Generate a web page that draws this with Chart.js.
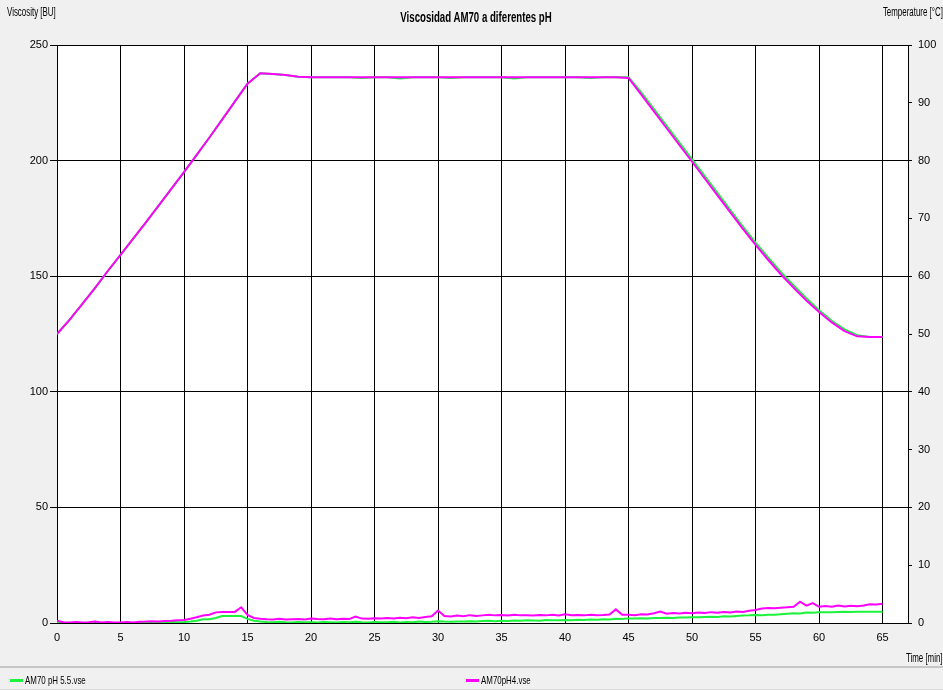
<!DOCTYPE html>
<html>
<head>
<meta charset="utf-8">
<script src="https://cdn.jsdelivr.net/npm/chart.js@4.4.1/dist/chart.umd.min.js"></script>
<style>
    html, body { margin: 0; padding: 0; background: #f0f0f0; }
    #wrap { position: relative; width: 943px; height: 690px; font-family: 'Liberation Sans', Arial, sans-serif; color: #000; }
    #wrap canvas { position: absolute; left: 0; top: 0; }
    .lbl { position: absolute; font-size: 12px; line-height: 12px; white-space: nowrap; transform: scaleX(0.66); }
    .left { transform-origin: left center; }
    .right { transform-origin: right center; }
    #title { position: absolute; left: 476px; top: 9px; font-size: 14px; line-height: 16px; font-weight: bold; white-space: nowrap; transform: translateX(-50%) scaleX(0.69); }
    #legend { position: absolute; left: 0; top: 666px; width: 943px; height: 21px; border-top: 2px solid #c6c6c6; border-bottom: 1px solid #dadada; }
    .item { position: absolute; top: 6px; height: 12px; }
    .swatch { position: absolute; left: 0; top: 5px; width: 13px; height: 3px; }
    .item .txt { position: absolute; left: 15px; top: 0; font-size: 11px; line-height: 12px; white-space: nowrap; transform: scaleX(0.72); transform-origin: left center; }
</style>
</head>
<body>
<div id="wrap">
    <canvas id="grafico" width="943" height="690"></canvas>
    <div id="title"></div>
    <div class="lbl left" style="left:7px; top:6px;">Viscosity [BU]</div>
    <div class="lbl right" style="right:0; top:6px;">Temperature [°C]</div>
    <div class="lbl right" style="right:0; top:652px;">Time [min]</div>
    <div id="legend"></div>
</div>
<script>
const TITLE = 'Viscosidad AM70 a diferentes pH'
const SERIES_NAMES = ['AM70 pH 5.5.vse', 'AM70pH4.vse']
const X_TICKS = [0, 5, 10, 15, 20, 25, 30, 35, 40, 45, 50, 55, 60, 65]
const VISC_TICKS = [0, 50, 100, 150, 200, 250]
const TEMP_TICKS = [0, 10, 20, 30, 40, 50, 60, 70, 80, 90, 100]

// time [min], viscosity sampled every 0.5 min
const timeVisc = [
    0, 0.5, 1, 1.5, 2, 2.5, 3, 3.5, 4, 4.5,
    5, 5.5, 6, 6.5, 7, 7.5, 8, 8.5, 9, 9.5,
    10, 10.5, 11, 11.5, 12, 12.5, 13, 13.5, 14, 14.5,
    15, 15.5, 16, 16.5, 17, 17.5, 18, 18.5, 19, 19.5,
    20, 20.5, 21, 21.5, 22, 22.5, 23, 23.5, 24, 24.5,
    25, 25.5, 26, 26.5, 27, 27.5, 28, 28.5, 29, 29.5,
    30, 30.5, 31, 31.5, 32, 32.5, 33, 33.5, 34, 34.5,
    35, 35.5, 36, 36.5, 37, 37.5, 38, 38.5, 39, 39.5,
    40, 40.5, 41, 41.5, 42, 42.5, 43, 43.5, 44, 44.5,
    45, 45.5, 46, 46.5, 47, 47.5, 48, 48.5, 49, 49.5,
    50, 50.5, 51, 51.5, 52, 52.5, 53, 53.5, 54, 54.5,
    55, 55.5, 56, 56.5, 57, 57.5, 58, 58.5, 59, 59.5,
    60, 60.5, 61, 61.5, 62, 62.5, 63, 63.5, 64, 64.5,
    65
]
const viscPH55 = [
    0.1, 0.0, 0.1, 0.0, 0.0, 0.1, 0.0, 0.0, 0.1, 0.0,
    0.0, 0.1, 0.0, 0.0, 0.1, 0.2, 0.3, 0.2, 0.4, 0.3,
    0.4, 0.6, 1.0, 1.6, 1.6, 2.2, 3.0, 3.0, 3.0, 3.0,
    1.8, 1.0, 0.6, 0.4, 0.3, 0.5, 0.3, 0.2, 0.4, 0.3,
    0.3, 0.2, 0.4, 0.3, 0.2, 0.4, 0.3, 0.5, 0.3, 0.2,
    0.4, 0.3, 0.3, 0.5, 0.2, 0.4, 0.3, 0.6, 0.4, 0.5,
    0.8, 0.6, 0.5, 0.7, 0.6, 0.8, 0.7, 0.9, 1.0, 0.8,
    1.0, 0.9, 1.1, 1.0, 1.2, 1.1, 1.0, 1.3, 1.2, 1.2,
    1.3, 1.2, 1.4, 1.3, 1.5, 1.4, 1.6, 1.5, 1.8, 1.7,
    2.0, 2.0, 2.1, 1.9, 2.2, 2.2, 2.3, 2.2, 2.4, 2.4,
    2.5, 2.5, 2.6, 2.7, 2.6, 2.9, 2.8, 3.0, 3.2, 3.3,
    3.5, 3.4, 3.6, 3.6, 3.8, 4.0, 4.2, 4.1, 4.5, 4.4,
    4.6, 4.7, 4.6, 4.8, 4.9, 4.8, 4.9, 4.9, 4.9, 4.9,
    4.9
]
const viscPH4 = [
    1.0, 0.3, 0.2, 0.4, 0.2, 0.3, 0.6, 0.2, 0.4, 0.2,
    0.2, 0.4, 0.2, 0.5, 0.6, 0.8, 0.7, 0.9, 1.0, 1.2,
    1.3, 1.8, 2.5, 3.2, 3.6, 4.6, 4.8, 4.8, 4.8, 6.8,
    3.5, 2.2, 1.8, 1.6, 1.5, 1.8, 1.5, 1.6, 1.7, 1.5,
    1.9, 1.7, 1.6, 1.9, 1.6, 1.8, 1.7, 2.8, 1.9, 1.8,
    2.1, 1.9, 2.2, 2.0, 2.3, 2.1, 2.5, 2.2, 2.6, 2.9,
    5.4, 3.0, 2.8, 3.2, 2.9, 3.4, 3.0, 3.3, 3.6, 3.3,
    3.5, 3.2, 3.6, 3.3, 3.4, 3.2, 3.5, 3.3, 3.6, 3.2,
    3.8, 3.4, 3.5, 3.3, 3.6, 3.4, 3.5, 3.7, 5.9, 3.6,
    3.6, 3.4, 3.8, 3.7, 4.2, 5.0, 4.0, 4.3, 4.1, 4.4,
    4.2, 4.5, 4.3, 4.7, 4.4, 4.8, 4.5, 5.0, 4.8, 5.3,
    5.6, 6.3, 6.5, 6.4, 6.6, 6.8, 7.0, 9.2, 7.5, 8.6,
    7.0, 7.4, 7.0, 7.6, 7.1, 7.5, 7.2, 7.6, 8.1, 8.0,
    8.3
]

// temperature [°C], every minute
const timeTemp = [
    0, 1, 2, 3, 4, 5, 6, 7, 8, 9,
    10, 11, 12, 13, 14, 15, 16, 17, 18, 19,
    20, 21, 22, 23, 24, 25, 26, 27, 28, 29,
    30, 31, 32, 33, 34, 35, 36, 37, 38, 39,
    40, 41, 42, 43, 44, 45, 46, 47, 48, 49,
    50, 51, 52, 53, 54, 55, 56, 57, 58, 59,
    60, 61, 62, 63, 64, 65
]
const tempPH55 = [
    50.0, 52.5, 55.2, 58.0, 60.9, 63.7, 66.5, 69.3, 72.2, 75.1,
    78.0, 81.0, 84.0, 87.1, 90.2, 93.3, 95.1, 95.0, 94.8, 94.5,
    94.4, 94.4, 94.4, 94.4, 94.3, 94.4, 94.4, 94.2, 94.4, 94.4,
    94.4, 94.3, 94.4, 94.4, 94.4, 94.4, 94.2, 94.4, 94.4, 94.4,
    94.4, 94.4, 94.3, 94.4, 94.4, 94.4, 91.8, 88.9, 86.0, 83.1,
    80.2, 77.3, 74.4, 71.5, 68.6, 65.8, 63.2, 60.7, 58.4, 56.2,
    54.1, 52.3, 50.8, 49.8, 49.5, 49.5
]
const tempPH4 = [
    50.0, 52.5, 55.2, 58.0, 60.9, 63.7, 66.5, 69.3, 72.2, 75.1,
    78.0, 81.0, 84.0, 87.1, 90.2, 93.3, 95.1, 95.0, 94.8, 94.5,
    94.4, 94.4, 94.4, 94.4, 94.4, 94.4, 94.4, 94.4, 94.4, 94.4,
    94.4, 94.4, 94.4, 94.4, 94.4, 94.4, 94.4, 94.4, 94.4, 94.4,
    94.4, 94.4, 94.4, 94.4, 94.4, 94.3, 91.4, 88.5, 85.6, 82.7,
    79.8, 76.9, 74.0, 71.1, 68.2, 65.4, 62.8, 60.3, 58.0, 55.8,
    53.8, 52.0, 50.5, 49.6, 49.5, 49.5
]

const GREEN = '#1ef23c'
const MAGENTA = '#ff00ff'
const COLORS = [GREEN, MAGENTA]
const LEGEND_LEFT = [10, 466]
const FONT = { family: "'Liberation Sans Narrow', 'Liberation Sans', Arial, sans-serif", size: 11 }

document.getElementById('title').textContent = TITLE
SERIES_NAMES.forEach((name, i) => {
    const item = document.createElement('div')
    item.className = 'item'
    item.style.left = LEGEND_LEFT[i] + 'px'
    item.innerHTML = `<span class="swatch" style="background:${COLORS[i]}"></span><span class="txt">${name}</span>`
    document.getElementById('legend').appendChild(item)
})

const _points = (xs, ys) => xs.map((x, i) => ({ x, y: ys[i] }))
const _line = (label, color, data, axis, order) => ({
    label, data, yAxisID: axis, order,
    borderColor: color, backgroundColor: color,
    borderWidth: 2, pointRadius: 0, tension: 0, fill: false
})

const plotBackground = {
    id: 'plotBackground',
    beforeDraw(chart) {
        const { ctx, chartArea: a } = chart
        ctx.save()
        ctx.fillStyle = '#f0f0f0'
        ctx.fillRect(0, 0, chart.width, chart.height)
        ctx.fillStyle = '#ffffff'
        ctx.fillRect(a.left, a.top, a.right - a.left, a.bottom - a.top)
        ctx.restore()
    }
}

const config = {
    type: 'line',
    data: {
        datasets: [
            _line(SERIES_NAMES[1], MAGENTA, _points(timeTemp, tempPH4), 'y1', 0),
            _line(SERIES_NAMES[1], MAGENTA, _points(timeVisc, viscPH4), 'y', 1),
            _line(SERIES_NAMES[0], GREEN, _points(timeTemp, tempPH55), 'y1', 2),
            _line(SERIES_NAMES[0], GREEN, _points(timeVisc, viscPH55), 'y', 3),
        ]
    },
    options: {
        responsive: false,
        animation: false,
        layout: { padding: { top: 45 } },
        plugins: {
            legend: { display: false },
            tooltip: { enabled: false },
            title: { display: false }
        },
        scales: {
            x: {
                type: 'linear', min: 0, max: 67,
                afterBuildTicks: (s) => { s.ticks = X_TICKS.map(value => ({ value })) },
                afterFit: (s) => { s.height = 67 },
                ticks: { color: '#000', font: FONT, padding: 8, maxRotation: 0 },
                grid: { color: '#000', drawTicks: false },
                border: { display: false }
            },
            y: {
                position: 'left', min: 0, max: 250,
                afterBuildTicks: (s) => { s.ticks = VISC_TICKS.map(value => ({ value })) },
                afterFit: (s) => { s.width = 57 },
                ticks: { color: '#000', font: FONT, padding: 2 },
                grid: { color: '#000', tickLength: 7 },
                border: { color: '#000' }
            },
            y1: {
                position: 'right', min: 0, max: 100,
                afterBuildTicks: (s) => { s.ticks = TEMP_TICKS.map(value => ({ value })) },
                afterFit: (s) => { s.width = 35 },
                ticks: { color: '#000', font: FONT, padding: 6 },
                grid: { drawOnChartArea: false, color: '#000', tickLength: 4 },
                border: { color: '#000' }
            }
        }
    },
    plugins: [plotBackground]
}

new Chart(document.getElementById('grafico'), config)
</script>
</body>
</html>
